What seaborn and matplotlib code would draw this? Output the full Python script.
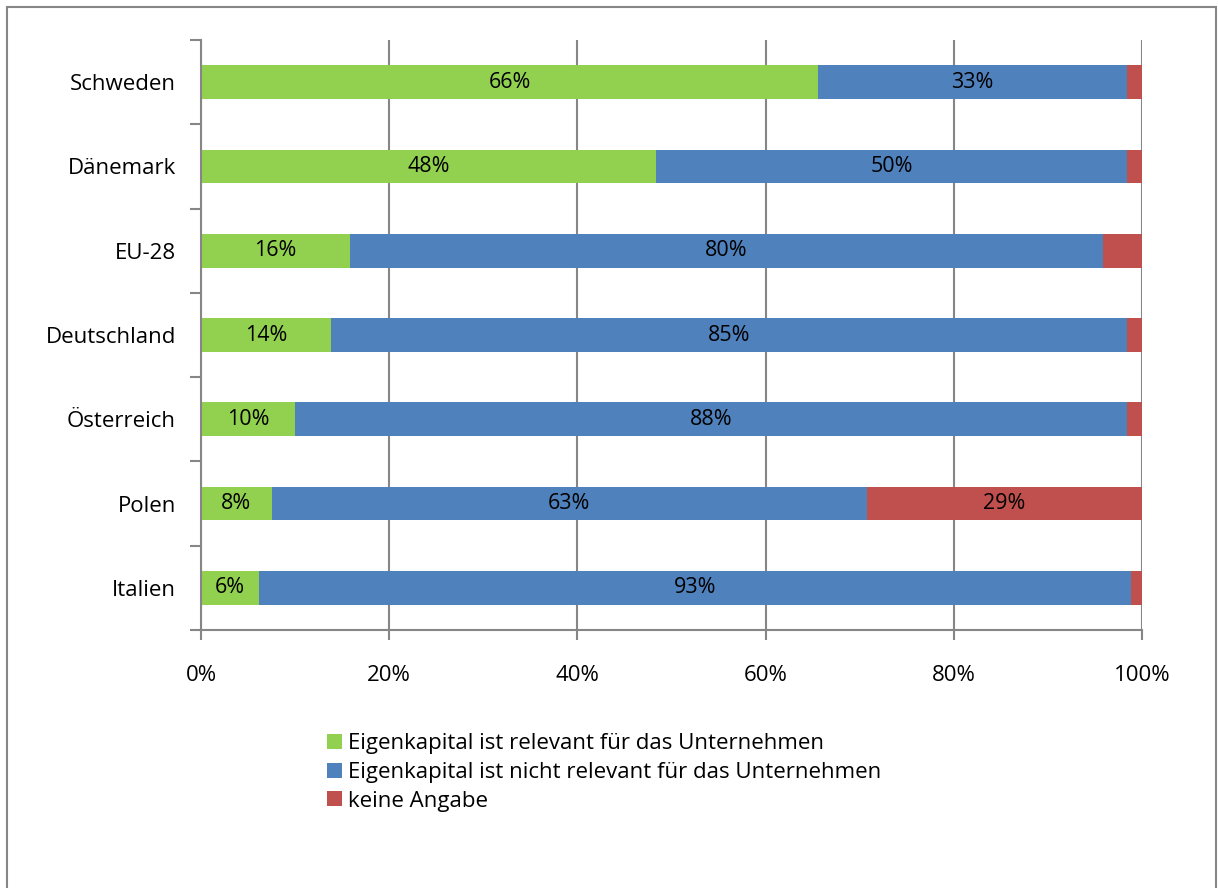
import matplotlib
matplotlib.use("Agg")
import matplotlib.pyplot as plt
from matplotlib.patches import Rectangle, Patch
from matplotlib.ticker import FixedLocator, PercentFormatter
import seaborn as sns
import numpy as np
import pandas as pd

countries = ["Schweden", "Dänemark", "EU-28", "Deutschland", "Österreich", "Polen", "Italien"]
relevant = [65.6, 48.4, 15.8, 13.8, 10.0, 7.5, 6.2]
nicht_relevant = [32.8, 50.0, 80.1, 84.6, 88.4, 63.3, 92.6]
keine_angabe = [1.6, 1.6, 4.1, 1.6, 1.6, 29.2, 1.2]
series_names = ["Eigenkapital ist relevant für das Unternehmen",
                "Eigenkapital ist nicht relevant für das Unternehmen",
                "keine Angabe"]
colors = ["#92D050", "#4F81BD", "#C0504D"]
xticks = [0, 20, 40, 60, 80, 100]

sns.set_style("white")
plt.rcParams["font.family"] = ["Open Sans", "DejaVu Sans"]
plt.rcParams["text.color"] = "black"
plt.rcParams["xtick.labelcolor"] = "black"
plt.rcParams["ytick.labelcolor"] = "black"

W, H = 1218, 888
fig = plt.figure(figsize=(W / 100, H / 100), dpi=100)
ax = fig.add_axes([201 / W, 1 - 630 / H, (1142 - 201) / W, (630 - 40) / H])

series = [relevant, nicht_relevant, keine_angabe]
cum = np.cumsum(np.array(series), axis=0)

# draw back-to-front so the stacked segments show
for i in reversed(range(3)):
    d = pd.DataFrame({"country": countries, "val": cum[i]})
    sns.barplot(data=d, x="val", y="country", orient="h", color=colors[i],
                width=0.40, saturation=1, ax=ax, edgecolor="none", linewidth=0)

# labels
for i in range(3):
    for j, c in enumerate(countries):
        v = series[i][j]
        if v < 5:
            continue
        left = cum[i][j] - v
        ax.text(left + v / 2, j, f"{round(v):.0f}%", ha="center", va="center",
                fontsize=15.5, color="black")

ax.set_xlim(0, 100)
ax.set_ylim(6.5, -0.5)
ax.xaxis.set_major_locator(FixedLocator(xticks))
ax.xaxis.set_major_formatter(PercentFormatter(decimals=0))
ax.grid(axis="x", color="#868686", linewidth=1.5)
ax.set_axisbelow(True)
ax.set_xlabel("")
ax.set_ylabel("")

for s in ["top", "right"]:
    ax.spines[s].set_visible(False)
for s in ["left", "bottom"]:
    ax.spines[s].set_visible(True)
    ax.spines[s].set_color("#868686")
    ax.spines[s].set_linewidth(1.5)

ax.set_yticks(range(len(countries)))
ax.set_yticklabels(countries)
ax.yaxis.set_minor_locator(FixedLocator(np.arange(-0.5, 7, 1.0)))
ax.tick_params(axis="y", which="major", length=0, pad=18, labelsize=16)
ax.tick_params(axis="y", which="minor", length=8, width=1.5, color="#868686", left=True)
ax.tick_params(axis="x", which="major", length=7, width=1.5, color="#868686",
               pad=18, labelsize=16, bottom=True)
ax.tick_params(axis="x", which="minor", length=0)

handles = [Patch(facecolor=colors[i], edgecolor="none", label=series_names[i]) for i in range(3)]
fig.legend(handles=handles, loc="upper left", bbox_to_anchor=(316 / W, 1 - 722 / H),
           frameon=False, fontsize=16, handlelength=0.65, handleheight=0.65,
           handletextpad=0.3, labelspacing=0.35, borderpad=0)

fig.patches.append(Rectangle((7 / W, -0.05), (1216 - 7) / W, 1 - 7 / H + 0.05,
                             transform=fig.transFigure, fill=False,
                             edgecolor="#868686", linewidth=1.5))

fig.savefig("out.png", dpi=100, facecolor="white")
